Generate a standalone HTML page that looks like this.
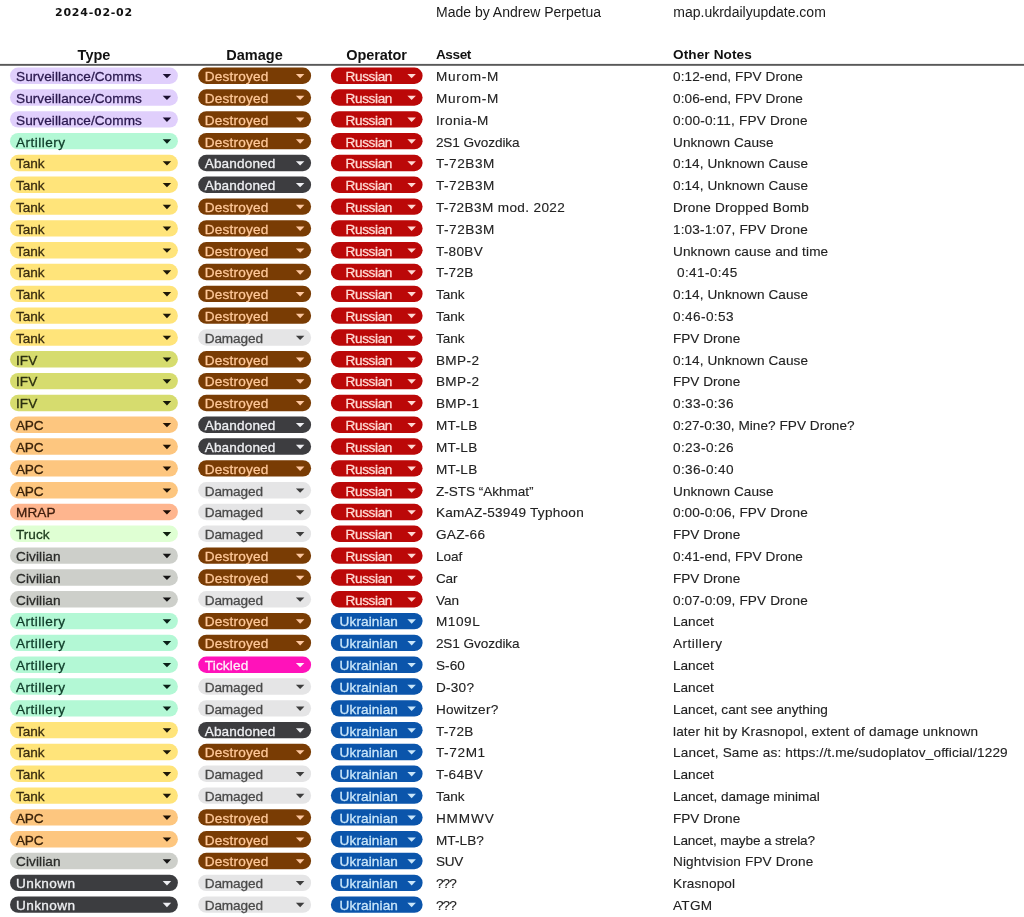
<!DOCTYPE html>
<html lang="en"><head><meta charset="utf-8"><title>2024-02-02</title>
<style>
html,body{margin:0;padding:0;background:#fff;}
body{width:1024px;height:917px;position:relative;overflow:hidden;font-family:"Liberation Sans", sans-serif;font-size:13.6px;color:#222;letter-spacing:0;}
.t{position:absolute;white-space:pre;line-height:18px;height:18px;}
.arial{font-family:"Liberation Sans",sans-serif;font-size:14px;color:#1a1a1a;letter-spacing:0;}
.hd{font-family:"Liberation Sans", sans-serif;font-weight:700;font-size:14.5px;color:#111;text-align:center;}
.hb{font-weight:700;color:#111;}
#date{left:0;width:188px;top:4.2px;font-family:"DejaVu Sans","Liberation Sans",sans-serif;font-size:11px;letter-spacing:0.75px;}
.r{position:absolute;left:0;width:1024px;height:18px;}
.r span{position:absolute;top:0;line-height:18px;height:18px;white-space:pre;-webkit-text-stroke:0.3px currentColor;}
svg{position:absolute;left:0;top:0;}
.a{left:16px;}
.b{left:204.7px;}
.c{left:337.8px;width:62px;text-align:center;}
.r .d{left:435.9px;top:0;-webkit-text-stroke-width:0.12px;}
.r .e{left:673px;top:0;-webkit-text-stroke-width:0.12px;}
.sv{color:#2b1a4f;}
.ar{color:#0f3d2a;}
.tk{color:#3a2d10;}
.if{color:#2c3010;}
.ap{color:#3a2209;}
.mr{color:#3d1d0c;}
.tr{color:#1c3a1c;}
.cv{color:#2a2b29;}
.un{color:#eeeff2;}
.de{color:#ffc899;}
.ab{color:#eeeff2;}
.da{color:#4a4a4a;}
.ti{color:#fff0fa;}
.ru{color:#ffd9d3;}
.uk{color:#c9e6fa;}

</style></head><body>
<div class="t hd" id="date">2024-02-02</div>
<div class="t arial" style="left:436px;top:3px;">Made by Andrew Perpetua</div>
<div class="t arial" style="left:673.3px;top:3px;">map.ukrdailyupdate.com</div>
<div class="t hd" style="left:0;width:188px;top:46px;">Type</div>
<div class="t hd" style="left:198px;width:113px;top:46px;">Damage</div>
<div class="t hd" style="left:330.5px;width:92px;top:46px;letter-spacing:-0.1px;">Operator</div>
<div class="t hb" style="left:435.9px;top:46px;letter-spacing:-0.4px;">Asset</div>
<div class="t hb" style="left:673px;top:46px;letter-spacing:0.1px;">Other Notes</div>
<svg width="1024" height="917" viewBox="0 0 1024 917">
<rect x="0" y="63.9" width="1024" height="1.9" fill="#595959"/>
<rect x="10" y="67.50" width="167.9" height="16.4" rx="8.2" fill="#e0cffc"/>
<path d="M162.70 73.90h8.5l-4.25 4.4z" fill="#1b1030"/>
<rect x="198.2" y="67.50" width="112.9" height="16.4" rx="8.2" fill="#793c04"/>
<path d="M295.90 73.90h8.5l-4.25 4.4z" fill="#ffc8a0"/>
<rect x="330.9" y="67.50" width="91.7" height="16.4" rx="8.2" fill="#bb0808"/>
<path d="M407.40 73.90h8.5l-4.25 4.4z" fill="#ffd9d3"/>
<rect x="10" y="89.31" width="167.9" height="16.4" rx="8.2" fill="#e0cffc"/>
<path d="M162.70 95.72h8.5l-4.25 4.4z" fill="#1b1030"/>
<rect x="198.2" y="89.31" width="112.9" height="16.4" rx="8.2" fill="#793c04"/>
<path d="M295.90 95.72h8.5l-4.25 4.4z" fill="#ffc8a0"/>
<rect x="330.9" y="89.31" width="91.7" height="16.4" rx="8.2" fill="#bb0808"/>
<path d="M407.40 95.72h8.5l-4.25 4.4z" fill="#ffd9d3"/>
<rect x="10" y="111.13" width="167.9" height="16.4" rx="8.2" fill="#e0cffc"/>
<path d="M162.70 117.53h8.5l-4.25 4.4z" fill="#1b1030"/>
<rect x="198.2" y="111.13" width="112.9" height="16.4" rx="8.2" fill="#793c04"/>
<path d="M295.90 117.53h8.5l-4.25 4.4z" fill="#ffc8a0"/>
<rect x="330.9" y="111.13" width="91.7" height="16.4" rx="8.2" fill="#bb0808"/>
<path d="M407.40 117.53h8.5l-4.25 4.4z" fill="#ffd9d3"/>
<rect x="10" y="132.94" width="167.9" height="16.4" rx="8.2" fill="#b3f8d5"/>
<path d="M162.70 139.34h8.5l-4.25 4.4z" fill="#0b2018"/>
<rect x="198.2" y="132.94" width="112.9" height="16.4" rx="8.2" fill="#793c04"/>
<path d="M295.90 139.34h8.5l-4.25 4.4z" fill="#ffc8a0"/>
<rect x="330.9" y="132.94" width="91.7" height="16.4" rx="8.2" fill="#bb0808"/>
<path d="M407.40 139.34h8.5l-4.25 4.4z" fill="#ffd9d3"/>
<rect x="10" y="154.76" width="167.9" height="16.4" rx="8.2" fill="#ffe47a"/>
<path d="M162.70 161.16h8.5l-4.25 4.4z" fill="#1d1708"/>
<rect x="198.2" y="154.76" width="112.9" height="16.4" rx="8.2" fill="#3d3d40"/>
<path d="M295.90 161.16h8.5l-4.25 4.4z" fill="#eeeff2"/>
<rect x="330.9" y="154.76" width="91.7" height="16.4" rx="8.2" fill="#bb0808"/>
<path d="M407.40 161.16h8.5l-4.25 4.4z" fill="#ffd9d3"/>
<rect x="10" y="176.57" width="167.9" height="16.4" rx="8.2" fill="#ffe47a"/>
<path d="M162.70 182.97h8.5l-4.25 4.4z" fill="#1d1708"/>
<rect x="198.2" y="176.57" width="112.9" height="16.4" rx="8.2" fill="#3d3d40"/>
<path d="M295.90 182.97h8.5l-4.25 4.4z" fill="#eeeff2"/>
<rect x="330.9" y="176.57" width="91.7" height="16.4" rx="8.2" fill="#bb0808"/>
<path d="M407.40 182.97h8.5l-4.25 4.4z" fill="#ffd9d3"/>
<rect x="10" y="198.39" width="167.9" height="16.4" rx="8.2" fill="#ffe47a"/>
<path d="M162.70 204.79h8.5l-4.25 4.4z" fill="#1d1708"/>
<rect x="198.2" y="198.39" width="112.9" height="16.4" rx="8.2" fill="#793c04"/>
<path d="M295.90 204.79h8.5l-4.25 4.4z" fill="#ffc8a0"/>
<rect x="330.9" y="198.39" width="91.7" height="16.4" rx="8.2" fill="#bb0808"/>
<path d="M407.40 204.79h8.5l-4.25 4.4z" fill="#ffd9d3"/>
<rect x="10" y="220.21" width="167.9" height="16.4" rx="8.2" fill="#ffe47a"/>
<path d="M162.70 226.60h8.5l-4.25 4.4z" fill="#1d1708"/>
<rect x="198.2" y="220.21" width="112.9" height="16.4" rx="8.2" fill="#793c04"/>
<path d="M295.90 226.60h8.5l-4.25 4.4z" fill="#ffc8a0"/>
<rect x="330.9" y="220.21" width="91.7" height="16.4" rx="8.2" fill="#bb0808"/>
<path d="M407.40 226.60h8.5l-4.25 4.4z" fill="#ffd9d3"/>
<rect x="10" y="242.02" width="167.9" height="16.4" rx="8.2" fill="#ffe47a"/>
<path d="M162.70 248.42h8.5l-4.25 4.4z" fill="#1d1708"/>
<rect x="198.2" y="242.02" width="112.9" height="16.4" rx="8.2" fill="#793c04"/>
<path d="M295.90 248.42h8.5l-4.25 4.4z" fill="#ffc8a0"/>
<rect x="330.9" y="242.02" width="91.7" height="16.4" rx="8.2" fill="#bb0808"/>
<path d="M407.40 248.42h8.5l-4.25 4.4z" fill="#ffd9d3"/>
<rect x="10" y="263.84" width="167.9" height="16.4" rx="8.2" fill="#ffe47a"/>
<path d="M162.70 270.24h8.5l-4.25 4.4z" fill="#1d1708"/>
<rect x="198.2" y="263.84" width="112.9" height="16.4" rx="8.2" fill="#793c04"/>
<path d="M295.90 270.24h8.5l-4.25 4.4z" fill="#ffc8a0"/>
<rect x="330.9" y="263.84" width="91.7" height="16.4" rx="8.2" fill="#bb0808"/>
<path d="M407.40 270.24h8.5l-4.25 4.4z" fill="#ffd9d3"/>
<rect x="10" y="285.65" width="167.9" height="16.4" rx="8.2" fill="#ffe47a"/>
<path d="M162.70 292.05h8.5l-4.25 4.4z" fill="#1d1708"/>
<rect x="198.2" y="285.65" width="112.9" height="16.4" rx="8.2" fill="#793c04"/>
<path d="M295.90 292.05h8.5l-4.25 4.4z" fill="#ffc8a0"/>
<rect x="330.9" y="285.65" width="91.7" height="16.4" rx="8.2" fill="#bb0808"/>
<path d="M407.40 292.05h8.5l-4.25 4.4z" fill="#ffd9d3"/>
<rect x="10" y="307.47" width="167.9" height="16.4" rx="8.2" fill="#ffe47a"/>
<path d="M162.70 313.87h8.5l-4.25 4.4z" fill="#1d1708"/>
<rect x="198.2" y="307.47" width="112.9" height="16.4" rx="8.2" fill="#793c04"/>
<path d="M295.90 313.87h8.5l-4.25 4.4z" fill="#ffc8a0"/>
<rect x="330.9" y="307.47" width="91.7" height="16.4" rx="8.2" fill="#bb0808"/>
<path d="M407.40 313.87h8.5l-4.25 4.4z" fill="#ffd9d3"/>
<rect x="10" y="329.28" width="167.9" height="16.4" rx="8.2" fill="#ffe47a"/>
<path d="M162.70 335.68h8.5l-4.25 4.4z" fill="#1d1708"/>
<rect x="198.2" y="329.28" width="112.9" height="16.4" rx="8.2" fill="#e5e5e6"/>
<path d="M295.90 335.68h8.5l-4.25 4.4z" fill="#3d3d3d"/>
<rect x="330.9" y="329.28" width="91.7" height="16.4" rx="8.2" fill="#bb0808"/>
<path d="M407.40 335.68h8.5l-4.25 4.4z" fill="#ffd9d3"/>
<rect x="10" y="351.10" width="167.9" height="16.4" rx="8.2" fill="#d6dc6e"/>
<path d="M162.70 357.50h8.5l-4.25 4.4z" fill="#15180a"/>
<rect x="198.2" y="351.10" width="112.9" height="16.4" rx="8.2" fill="#793c04"/>
<path d="M295.90 357.50h8.5l-4.25 4.4z" fill="#ffc8a0"/>
<rect x="330.9" y="351.10" width="91.7" height="16.4" rx="8.2" fill="#bb0808"/>
<path d="M407.40 357.50h8.5l-4.25 4.4z" fill="#ffd9d3"/>
<rect x="10" y="372.91" width="167.9" height="16.4" rx="8.2" fill="#d6dc6e"/>
<path d="M162.70 379.31h8.5l-4.25 4.4z" fill="#15180a"/>
<rect x="198.2" y="372.91" width="112.9" height="16.4" rx="8.2" fill="#793c04"/>
<path d="M295.90 379.31h8.5l-4.25 4.4z" fill="#ffc8a0"/>
<rect x="330.9" y="372.91" width="91.7" height="16.4" rx="8.2" fill="#bb0808"/>
<path d="M407.40 379.31h8.5l-4.25 4.4z" fill="#ffd9d3"/>
<rect x="10" y="394.73" width="167.9" height="16.4" rx="8.2" fill="#d6dc6e"/>
<path d="M162.70 401.12h8.5l-4.25 4.4z" fill="#15180a"/>
<rect x="198.2" y="394.73" width="112.9" height="16.4" rx="8.2" fill="#793c04"/>
<path d="M295.90 401.12h8.5l-4.25 4.4z" fill="#ffc8a0"/>
<rect x="330.9" y="394.73" width="91.7" height="16.4" rx="8.2" fill="#bb0808"/>
<path d="M407.40 401.12h8.5l-4.25 4.4z" fill="#ffd9d3"/>
<rect x="10" y="416.54" width="167.9" height="16.4" rx="8.2" fill="#fdc67f"/>
<path d="M162.70 422.94h8.5l-4.25 4.4z" fill="#1d1105"/>
<rect x="198.2" y="416.54" width="112.9" height="16.4" rx="8.2" fill="#3d3d40"/>
<path d="M295.90 422.94h8.5l-4.25 4.4z" fill="#eeeff2"/>
<rect x="330.9" y="416.54" width="91.7" height="16.4" rx="8.2" fill="#bb0808"/>
<path d="M407.40 422.94h8.5l-4.25 4.4z" fill="#ffd9d3"/>
<rect x="10" y="438.36" width="167.9" height="16.4" rx="8.2" fill="#fdc67f"/>
<path d="M162.70 444.75h8.5l-4.25 4.4z" fill="#1d1105"/>
<rect x="198.2" y="438.36" width="112.9" height="16.4" rx="8.2" fill="#3d3d40"/>
<path d="M295.90 444.75h8.5l-4.25 4.4z" fill="#eeeff2"/>
<rect x="330.9" y="438.36" width="91.7" height="16.4" rx="8.2" fill="#bb0808"/>
<path d="M407.40 444.75h8.5l-4.25 4.4z" fill="#ffd9d3"/>
<rect x="10" y="460.17" width="167.9" height="16.4" rx="8.2" fill="#fdc67f"/>
<path d="M162.70 466.57h8.5l-4.25 4.4z" fill="#1d1105"/>
<rect x="198.2" y="460.17" width="112.9" height="16.4" rx="8.2" fill="#793c04"/>
<path d="M295.90 466.57h8.5l-4.25 4.4z" fill="#ffc8a0"/>
<rect x="330.9" y="460.17" width="91.7" height="16.4" rx="8.2" fill="#bb0808"/>
<path d="M407.40 466.57h8.5l-4.25 4.4z" fill="#ffd9d3"/>
<rect x="10" y="481.99" width="167.9" height="16.4" rx="8.2" fill="#fdc67f"/>
<path d="M162.70 488.38h8.5l-4.25 4.4z" fill="#1d1105"/>
<rect x="198.2" y="481.99" width="112.9" height="16.4" rx="8.2" fill="#e5e5e6"/>
<path d="M295.90 488.38h8.5l-4.25 4.4z" fill="#3d3d3d"/>
<rect x="330.9" y="481.99" width="91.7" height="16.4" rx="8.2" fill="#bb0808"/>
<path d="M407.40 488.38h8.5l-4.25 4.4z" fill="#ffd9d3"/>
<rect x="10" y="503.80" width="167.9" height="16.4" rx="8.2" fill="#feb58e"/>
<path d="M162.70 510.20h8.5l-4.25 4.4z" fill="#1f0e06"/>
<rect x="198.2" y="503.80" width="112.9" height="16.4" rx="8.2" fill="#e5e5e6"/>
<path d="M295.90 510.20h8.5l-4.25 4.4z" fill="#3d3d3d"/>
<rect x="330.9" y="503.80" width="91.7" height="16.4" rx="8.2" fill="#bb0808"/>
<path d="M407.40 510.20h8.5l-4.25 4.4z" fill="#ffd9d3"/>
<rect x="10" y="525.62" width="167.9" height="16.4" rx="8.2" fill="#dfffd3"/>
<path d="M162.70 532.02h8.5l-4.25 4.4z" fill="#0f1f0f"/>
<rect x="198.2" y="525.62" width="112.9" height="16.4" rx="8.2" fill="#e5e5e6"/>
<path d="M295.90 532.02h8.5l-4.25 4.4z" fill="#3d3d3d"/>
<rect x="330.9" y="525.62" width="91.7" height="16.4" rx="8.2" fill="#bb0808"/>
<path d="M407.40 532.02h8.5l-4.25 4.4z" fill="#ffd9d3"/>
<rect x="10" y="547.43" width="167.9" height="16.4" rx="8.2" fill="#cdcfca"/>
<path d="M162.70 553.83h8.5l-4.25 4.4z" fill="#151515"/>
<rect x="198.2" y="547.43" width="112.9" height="16.4" rx="8.2" fill="#793c04"/>
<path d="M295.90 553.83h8.5l-4.25 4.4z" fill="#ffc8a0"/>
<rect x="330.9" y="547.43" width="91.7" height="16.4" rx="8.2" fill="#bb0808"/>
<path d="M407.40 553.83h8.5l-4.25 4.4z" fill="#ffd9d3"/>
<rect x="10" y="569.25" width="167.9" height="16.4" rx="8.2" fill="#cdcfca"/>
<path d="M162.70 575.65h8.5l-4.25 4.4z" fill="#151515"/>
<rect x="198.2" y="569.25" width="112.9" height="16.4" rx="8.2" fill="#793c04"/>
<path d="M295.90 575.65h8.5l-4.25 4.4z" fill="#ffc8a0"/>
<rect x="330.9" y="569.25" width="91.7" height="16.4" rx="8.2" fill="#bb0808"/>
<path d="M407.40 575.65h8.5l-4.25 4.4z" fill="#ffd9d3"/>
<rect x="10" y="591.06" width="167.9" height="16.4" rx="8.2" fill="#cdcfca"/>
<path d="M162.70 597.46h8.5l-4.25 4.4z" fill="#151515"/>
<rect x="198.2" y="591.06" width="112.9" height="16.4" rx="8.2" fill="#e5e5e6"/>
<path d="M295.90 597.46h8.5l-4.25 4.4z" fill="#3d3d3d"/>
<rect x="330.9" y="591.06" width="91.7" height="16.4" rx="8.2" fill="#bb0808"/>
<path d="M407.40 597.46h8.5l-4.25 4.4z" fill="#ffd9d3"/>
<rect x="10" y="612.88" width="167.9" height="16.4" rx="8.2" fill="#b3f8d5"/>
<path d="M162.70 619.28h8.5l-4.25 4.4z" fill="#0b2018"/>
<rect x="198.2" y="612.88" width="112.9" height="16.4" rx="8.2" fill="#793c04"/>
<path d="M295.90 619.28h8.5l-4.25 4.4z" fill="#ffc8a0"/>
<rect x="330.9" y="612.88" width="91.7" height="16.4" rx="8.2" fill="#0b55ab"/>
<path d="M407.40 619.28h8.5l-4.25 4.4z" fill="#c9e6fa"/>
<rect x="10" y="634.69" width="167.9" height="16.4" rx="8.2" fill="#b3f8d5"/>
<path d="M162.70 641.09h8.5l-4.25 4.4z" fill="#0b2018"/>
<rect x="198.2" y="634.69" width="112.9" height="16.4" rx="8.2" fill="#793c04"/>
<path d="M295.90 641.09h8.5l-4.25 4.4z" fill="#ffc8a0"/>
<rect x="330.9" y="634.69" width="91.7" height="16.4" rx="8.2" fill="#0b55ab"/>
<path d="M407.40 641.09h8.5l-4.25 4.4z" fill="#c9e6fa"/>
<rect x="10" y="656.50" width="167.9" height="16.4" rx="8.2" fill="#b3f8d5"/>
<path d="M162.70 662.91h8.5l-4.25 4.4z" fill="#0b2018"/>
<rect x="198.2" y="656.50" width="112.9" height="16.4" rx="8.2" fill="#ff12ba"/>
<path d="M295.90 662.91h8.5l-4.25 4.4z" fill="#fff0fa"/>
<rect x="330.9" y="656.50" width="91.7" height="16.4" rx="8.2" fill="#0b55ab"/>
<path d="M407.40 662.91h8.5l-4.25 4.4z" fill="#c9e6fa"/>
<rect x="10" y="678.32" width="167.9" height="16.4" rx="8.2" fill="#b3f8d5"/>
<path d="M162.70 684.72h8.5l-4.25 4.4z" fill="#0b2018"/>
<rect x="198.2" y="678.32" width="112.9" height="16.4" rx="8.2" fill="#e5e5e6"/>
<path d="M295.90 684.72h8.5l-4.25 4.4z" fill="#3d3d3d"/>
<rect x="330.9" y="678.32" width="91.7" height="16.4" rx="8.2" fill="#0b55ab"/>
<path d="M407.40 684.72h8.5l-4.25 4.4z" fill="#c9e6fa"/>
<rect x="10" y="700.13" width="167.9" height="16.4" rx="8.2" fill="#b3f8d5"/>
<path d="M162.70 706.54h8.5l-4.25 4.4z" fill="#0b2018"/>
<rect x="198.2" y="700.13" width="112.9" height="16.4" rx="8.2" fill="#e5e5e6"/>
<path d="M295.90 706.54h8.5l-4.25 4.4z" fill="#3d3d3d"/>
<rect x="330.9" y="700.13" width="91.7" height="16.4" rx="8.2" fill="#0b55ab"/>
<path d="M407.40 706.54h8.5l-4.25 4.4z" fill="#c9e6fa"/>
<rect x="10" y="721.95" width="167.9" height="16.4" rx="8.2" fill="#ffe47a"/>
<path d="M162.70 728.35h8.5l-4.25 4.4z" fill="#1d1708"/>
<rect x="198.2" y="721.95" width="112.9" height="16.4" rx="8.2" fill="#3d3d40"/>
<path d="M295.90 728.35h8.5l-4.25 4.4z" fill="#eeeff2"/>
<rect x="330.9" y="721.95" width="91.7" height="16.4" rx="8.2" fill="#0b55ab"/>
<path d="M407.40 728.35h8.5l-4.25 4.4z" fill="#c9e6fa"/>
<rect x="10" y="743.76" width="167.9" height="16.4" rx="8.2" fill="#ffe47a"/>
<path d="M162.70 750.17h8.5l-4.25 4.4z" fill="#1d1708"/>
<rect x="198.2" y="743.76" width="112.9" height="16.4" rx="8.2" fill="#793c04"/>
<path d="M295.90 750.17h8.5l-4.25 4.4z" fill="#ffc8a0"/>
<rect x="330.9" y="743.76" width="91.7" height="16.4" rx="8.2" fill="#0b55ab"/>
<path d="M407.40 750.17h8.5l-4.25 4.4z" fill="#c9e6fa"/>
<rect x="10" y="765.58" width="167.9" height="16.4" rx="8.2" fill="#ffe47a"/>
<path d="M162.70 771.98h8.5l-4.25 4.4z" fill="#1d1708"/>
<rect x="198.2" y="765.58" width="112.9" height="16.4" rx="8.2" fill="#e5e5e6"/>
<path d="M295.90 771.98h8.5l-4.25 4.4z" fill="#3d3d3d"/>
<rect x="330.9" y="765.58" width="91.7" height="16.4" rx="8.2" fill="#0b55ab"/>
<path d="M407.40 771.98h8.5l-4.25 4.4z" fill="#c9e6fa"/>
<rect x="10" y="787.40" width="167.9" height="16.4" rx="8.2" fill="#ffe47a"/>
<path d="M162.70 793.80h8.5l-4.25 4.4z" fill="#1d1708"/>
<rect x="198.2" y="787.40" width="112.9" height="16.4" rx="8.2" fill="#e5e5e6"/>
<path d="M295.90 793.80h8.5l-4.25 4.4z" fill="#3d3d3d"/>
<rect x="330.9" y="787.40" width="91.7" height="16.4" rx="8.2" fill="#0b55ab"/>
<path d="M407.40 793.80h8.5l-4.25 4.4z" fill="#c9e6fa"/>
<rect x="10" y="809.21" width="167.9" height="16.4" rx="8.2" fill="#fdc67f"/>
<path d="M162.70 815.61h8.5l-4.25 4.4z" fill="#1d1105"/>
<rect x="198.2" y="809.21" width="112.9" height="16.4" rx="8.2" fill="#793c04"/>
<path d="M295.90 815.61h8.5l-4.25 4.4z" fill="#ffc8a0"/>
<rect x="330.9" y="809.21" width="91.7" height="16.4" rx="8.2" fill="#0b55ab"/>
<path d="M407.40 815.61h8.5l-4.25 4.4z" fill="#c9e6fa"/>
<rect x="10" y="831.03" width="167.9" height="16.4" rx="8.2" fill="#fdc67f"/>
<path d="M162.70 837.43h8.5l-4.25 4.4z" fill="#1d1105"/>
<rect x="198.2" y="831.03" width="112.9" height="16.4" rx="8.2" fill="#793c04"/>
<path d="M295.90 837.43h8.5l-4.25 4.4z" fill="#ffc8a0"/>
<rect x="330.9" y="831.03" width="91.7" height="16.4" rx="8.2" fill="#0b55ab"/>
<path d="M407.40 837.43h8.5l-4.25 4.4z" fill="#c9e6fa"/>
<rect x="10" y="852.84" width="167.9" height="16.4" rx="8.2" fill="#cdcfca"/>
<path d="M162.70 859.24h8.5l-4.25 4.4z" fill="#151515"/>
<rect x="198.2" y="852.84" width="112.9" height="16.4" rx="8.2" fill="#793c04"/>
<path d="M295.90 859.24h8.5l-4.25 4.4z" fill="#ffc8a0"/>
<rect x="330.9" y="852.84" width="91.7" height="16.4" rx="8.2" fill="#0b55ab"/>
<path d="M407.40 859.24h8.5l-4.25 4.4z" fill="#c9e6fa"/>
<rect x="10" y="874.66" width="167.9" height="16.4" rx="8.2" fill="#3c3d40"/>
<path d="M162.70 881.06h8.5l-4.25 4.4z" fill="#eeeff2"/>
<rect x="198.2" y="874.66" width="112.9" height="16.4" rx="8.2" fill="#e5e5e6"/>
<path d="M295.90 881.06h8.5l-4.25 4.4z" fill="#3d3d3d"/>
<rect x="330.9" y="874.66" width="91.7" height="16.4" rx="8.2" fill="#0b55ab"/>
<path d="M407.40 881.06h8.5l-4.25 4.4z" fill="#c9e6fa"/>
<rect x="10" y="896.47" width="167.9" height="16.4" rx="8.2" fill="#3c3d40"/>
<path d="M162.70 902.87h8.5l-4.25 4.4z" fill="#eeeff2"/>
<rect x="198.2" y="896.47" width="112.9" height="16.4" rx="8.2" fill="#e5e5e6"/>
<path d="M295.90 902.87h8.5l-4.25 4.4z" fill="#3d3d3d"/>
<rect x="330.9" y="896.47" width="91.7" height="16.4" rx="8.2" fill="#0b55ab"/>
<path d="M407.40 902.87h8.5l-4.25 4.4z" fill="#c9e6fa"/>
</svg>
<div class="r" style="top:68.05px"><span class="a sv" style="letter-spacing:0.07px">Surveillance/Comms</span><span class="b de" style="letter-spacing:0.2px">Destroyed</span><span class="c ru" style="letter-spacing:-0.37px">Russian</span><span class="d" style="letter-spacing:0.71px">Murom-M</span><span class="e" style="letter-spacing:0.08px">0:12-end, FPV Drone</span></div>
<div class="r" style="top:89.86px"><span class="a sv" style="letter-spacing:0.07px">Surveillance/Comms</span><span class="b de" style="letter-spacing:0.2px">Destroyed</span><span class="c ru" style="letter-spacing:-0.37px">Russian</span><span class="d" style="letter-spacing:0.71px">Murom-M</span><span class="e" style="letter-spacing:0.08px">0:06-end, FPV Drone</span></div>
<div class="r" style="top:111.68px"><span class="a sv" style="letter-spacing:0.07px">Surveillance/Comms</span><span class="b de" style="letter-spacing:0.2px">Destroyed</span><span class="c ru" style="letter-spacing:-0.37px">Russian</span><span class="d" style="letter-spacing:0.38px">Ironia-M</span><span class="e" style="letter-spacing:0.18px">0:00-0:11, FPV Drone</span></div>
<div class="r" style="top:133.50px"><span class="a ar" style="letter-spacing:0.46px">Artillery</span><span class="b de" style="letter-spacing:0.2px">Destroyed</span><span class="c ru" style="letter-spacing:-0.37px">Russian</span><span class="d" style="letter-spacing:-0.08px">2S1 Gvozdika</span><span class="e" style="letter-spacing:0.06px">Unknown Cause</span></div>
<div class="r" style="top:155.31px"><span class="a tk" style="letter-spacing:-0.04px">Tank</span><span class="b ab" style="letter-spacing:0.14px">Abandoned</span><span class="c ru" style="letter-spacing:-0.37px">Russian</span><span class="d" style="letter-spacing:0.55px">T-72B3M</span><span class="e" style="letter-spacing:0.07px">0:14, Unknown Cause</span></div>
<div class="r" style="top:177.12px"><span class="a tk" style="letter-spacing:-0.04px">Tank</span><span class="b ab" style="letter-spacing:0.14px">Abandoned</span><span class="c ru" style="letter-spacing:-0.37px">Russian</span><span class="d" style="letter-spacing:0.55px">T-72B3M</span><span class="e" style="letter-spacing:0.07px">0:14, Unknown Cause</span></div>
<div class="r" style="top:198.94px"><span class="a tk" style="letter-spacing:-0.04px">Tank</span><span class="b de" style="letter-spacing:0.2px">Destroyed</span><span class="c ru" style="letter-spacing:-0.37px">Russian</span><span class="d" style="letter-spacing:0.36px">T-72B3M mod. 2022</span><span class="e" style="letter-spacing:0.21px">Drone Dropped Bomb</span></div>
<div class="r" style="top:220.76px"><span class="a tk" style="letter-spacing:-0.04px">Tank</span><span class="b de" style="letter-spacing:0.2px">Destroyed</span><span class="c ru" style="letter-spacing:-0.37px">Russian</span><span class="d" style="letter-spacing:0.55px">T-72B3M</span><span class="e" style="letter-spacing:0.13px">1:03-1:07, FPV Drone</span></div>
<div class="r" style="top:242.57px"><span class="a tk" style="letter-spacing:-0.04px">Tank</span><span class="b de" style="letter-spacing:0.2px">Destroyed</span><span class="c ru" style="letter-spacing:-0.37px">Russian</span><span class="d" style="letter-spacing:0.31px">T-80BV</span><span class="e" style="letter-spacing:0.12px">Unknown cause and time</span></div>
<div class="r" style="top:264.39px"><span class="a tk" style="letter-spacing:-0.04px">Tank</span><span class="b de" style="letter-spacing:0.2px">Destroyed</span><span class="c ru" style="letter-spacing:-0.37px">Russian</span><span class="d" style="letter-spacing:0.32px">T-72B</span><span class="e" style="letter-spacing:0.33px"> 0:41-0:45</span></div>
<div class="r" style="top:286.20px"><span class="a tk" style="letter-spacing:-0.04px">Tank</span><span class="b de" style="letter-spacing:0.2px">Destroyed</span><span class="c ru" style="letter-spacing:-0.37px">Russian</span><span class="d" style="letter-spacing:-0.04px">Tank</span><span class="e" style="letter-spacing:0.07px">0:14, Unknown Cause</span></div>
<div class="r" style="top:308.02px"><span class="a tk" style="letter-spacing:-0.04px">Tank</span><span class="b de" style="letter-spacing:0.2px">Destroyed</span><span class="c ru" style="letter-spacing:-0.37px">Russian</span><span class="d" style="letter-spacing:-0.04px">Tank</span><span class="e" style="letter-spacing:0.38px">0:46-0:53</span></div>
<div class="r" style="top:329.83px"><span class="a tk" style="letter-spacing:-0.04px">Tank</span><span class="b da" style="letter-spacing:-0.1px">Damaged</span><span class="c ru" style="letter-spacing:-0.37px">Russian</span><span class="d" style="letter-spacing:-0.04px">Tank</span><span class="e">FPV Drone</span></div>
<div class="r" style="top:351.65px"><span class="a if" style="letter-spacing:0.05px">IFV</span><span class="b de" style="letter-spacing:0.2px">Destroyed</span><span class="c ru" style="letter-spacing:-0.37px">Russian</span><span class="d" style="letter-spacing:0.38px">BMP-2</span><span class="e" style="letter-spacing:0.07px">0:14, Unknown Cause</span></div>
<div class="r" style="top:373.46px"><span class="a if" style="letter-spacing:0.05px">IFV</span><span class="b de" style="letter-spacing:0.2px">Destroyed</span><span class="c ru" style="letter-spacing:-0.37px">Russian</span><span class="d" style="letter-spacing:0.38px">BMP-2</span><span class="e">FPV Drone</span></div>
<div class="r" style="top:395.28px"><span class="a if" style="letter-spacing:0.05px">IFV</span><span class="b de" style="letter-spacing:0.2px">Destroyed</span><span class="c ru" style="letter-spacing:-0.37px">Russian</span><span class="d" style="letter-spacing:0.38px">BMP-1</span><span class="e" style="letter-spacing:0.38px">0:33-0:36</span></div>
<div class="r" style="top:417.09px"><span class="a ap" style="letter-spacing:-0.24px">APC</span><span class="b ab" style="letter-spacing:0.14px">Abandoned</span><span class="c ru" style="letter-spacing:-0.37px">Russian</span><span class="d" style="letter-spacing:0.36px">MT-LB</span><span class="e" style="letter-spacing:0.04px">0:27-0:30, Mine? FPV Drone?</span></div>
<div class="r" style="top:438.91px"><span class="a ap" style="letter-spacing:-0.24px">APC</span><span class="b ab" style="letter-spacing:0.14px">Abandoned</span><span class="c ru" style="letter-spacing:-0.37px">Russian</span><span class="d" style="letter-spacing:0.36px">MT-LB</span><span class="e" style="letter-spacing:0.38px">0:23-0:26</span></div>
<div class="r" style="top:460.72px"><span class="a ap" style="letter-spacing:-0.24px">APC</span><span class="b de" style="letter-spacing:0.2px">Destroyed</span><span class="c ru" style="letter-spacing:-0.37px">Russian</span><span class="d" style="letter-spacing:0.36px">MT-LB</span><span class="e" style="letter-spacing:0.38px">0:36-0:40</span></div>
<div class="r" style="top:482.54px"><span class="a ap" style="letter-spacing:-0.24px">APC</span><span class="b da" style="letter-spacing:-0.1px">Damaged</span><span class="c ru" style="letter-spacing:-0.37px">Russian</span><span class="d" style="letter-spacing:-0.04px">Z-STS “Akhmat”</span><span class="e" style="letter-spacing:0.06px">Unknown Cause</span></div>
<div class="r" style="top:504.35px"><span class="a mr" style="letter-spacing:0.09px">MRAP</span><span class="b da" style="letter-spacing:-0.1px">Damaged</span><span class="c ru" style="letter-spacing:-0.37px">Russian</span><span class="d" style="letter-spacing:0.25px">KamAZ-53949 Typhoon</span><span class="e" style="letter-spacing:0.13px">0:00-0:06, FPV Drone</span></div>
<div class="r" style="top:526.16px"><span class="a tr">Truck</span><span class="b da" style="letter-spacing:-0.1px">Damaged</span><span class="c ru" style="letter-spacing:-0.37px">Russian</span><span class="d" style="letter-spacing:0.3px">GAZ-66</span><span class="e">FPV Drone</span></div>
<div class="r" style="top:547.98px"><span class="a cv" style="letter-spacing:0.11px">Civilian</span><span class="b de" style="letter-spacing:0.2px">Destroyed</span><span class="c ru" style="letter-spacing:-0.37px">Russian</span><span class="d" style="letter-spacing:-0.02px">Loaf</span><span class="e" style="letter-spacing:0.08px">0:41-end, FPV Drone</span></div>
<div class="r" style="top:569.79px"><span class="a cv" style="letter-spacing:0.11px">Civilian</span><span class="b de" style="letter-spacing:0.2px">Destroyed</span><span class="c ru" style="letter-spacing:-0.37px">Russian</span><span class="d" style="letter-spacing:-0.17px">Car</span><span class="e">FPV Drone</span></div>
<div class="r" style="top:591.61px"><span class="a cv" style="letter-spacing:0.11px">Civilian</span><span class="b da" style="letter-spacing:-0.1px">Damaged</span><span class="c ru" style="letter-spacing:-0.37px">Russian</span><span class="d">Van</span><span class="e" style="letter-spacing:0.13px">0:07-0:09, FPV Drone</span></div>
<div class="r" style="top:613.42px"><span class="a ar" style="letter-spacing:0.46px">Artillery</span><span class="b de" style="letter-spacing:0.2px">Destroyed</span><span class="c uk" style="letter-spacing:0.12px">Ukrainian</span><span class="d" style="letter-spacing:0.59px">M109L</span><span class="e">Lancet</span></div>
<div class="r" style="top:635.24px"><span class="a ar" style="letter-spacing:0.46px">Artillery</span><span class="b de" style="letter-spacing:0.2px">Destroyed</span><span class="c uk" style="letter-spacing:0.12px">Ukrainian</span><span class="d" style="letter-spacing:-0.08px">2S1 Gvozdika</span><span class="e" style="letter-spacing:0.46px">Artillery</span></div>
<div class="r" style="top:657.05px"><span class="a ar" style="letter-spacing:0.46px">Artillery</span><span class="b ti" style="letter-spacing:0.19px">Tickled</span><span class="c uk" style="letter-spacing:0.12px">Ukrainian</span><span class="d" style="letter-spacing:0.08px">S-60</span><span class="e">Lancet</span></div>
<div class="r" style="top:678.87px"><span class="a ar" style="letter-spacing:0.46px">Artillery</span><span class="b da" style="letter-spacing:-0.1px">Damaged</span><span class="c uk" style="letter-spacing:0.12px">Ukrainian</span><span class="d" style="letter-spacing:0.26px">D-30?</span><span class="e">Lancet</span></div>
<div class="r" style="top:700.68px"><span class="a ar" style="letter-spacing:0.46px">Artillery</span><span class="b da" style="letter-spacing:-0.1px">Damaged</span><span class="c uk" style="letter-spacing:0.12px">Ukrainian</span><span class="d" style="letter-spacing:0.24px">Howitzer?</span><span class="e">Lancet, cant see anything</span></div>
<div class="r" style="top:722.50px"><span class="a tk" style="letter-spacing:-0.04px">Tank</span><span class="b ab" style="letter-spacing:0.14px">Abandoned</span><span class="c uk" style="letter-spacing:0.12px">Ukrainian</span><span class="d" style="letter-spacing:0.32px">T-72B</span><span class="e" style="letter-spacing:0.14px">later hit by Krasnopol, extent of damage unknown</span></div>
<div class="r" style="top:744.31px"><span class="a tk" style="letter-spacing:-0.04px">Tank</span><span class="b de" style="letter-spacing:0.2px">Destroyed</span><span class="c uk" style="letter-spacing:0.12px">Ukrainian</span><span class="d" style="letter-spacing:0.64px">T-72M1</span><span class="e" style="letter-spacing:0.16px">Lancet, Same as: https://t.me/sudoplatov_official/1229</span></div>
<div class="r" style="top:766.13px"><span class="a tk" style="letter-spacing:-0.04px">Tank</span><span class="b da" style="letter-spacing:-0.1px">Damaged</span><span class="c uk" style="letter-spacing:0.12px">Ukrainian</span><span class="d" style="letter-spacing:0.31px">T-64BV</span><span class="e">Lancet</span></div>
<div class="r" style="top:787.95px"><span class="a tk" style="letter-spacing:-0.04px">Tank</span><span class="b da" style="letter-spacing:-0.1px">Damaged</span><span class="c uk" style="letter-spacing:0.12px">Ukrainian</span><span class="d" style="letter-spacing:-0.04px">Tank</span><span class="e" style="letter-spacing:-0.06px">Lancet, damage minimal</span></div>
<div class="r" style="top:809.76px"><span class="a ap" style="letter-spacing:-0.24px">APC</span><span class="b de" style="letter-spacing:0.2px">Destroyed</span><span class="c uk" style="letter-spacing:0.12px">Ukrainian</span><span class="d" style="letter-spacing:0.9px">HMMWV</span><span class="e">FPV Drone</span></div>
<div class="r" style="top:831.58px"><span class="a ap" style="letter-spacing:-0.24px">APC</span><span class="b de" style="letter-spacing:0.2px">Destroyed</span><span class="c uk" style="letter-spacing:0.12px">Ukrainian</span><span class="d" style="letter-spacing:0.08px">MT-LB?</span><span class="e" style="letter-spacing:-0.14px">Lancet, maybe a strela?</span></div>
<div class="r" style="top:853.39px"><span class="a cv" style="letter-spacing:0.11px">Civilian</span><span class="b de" style="letter-spacing:0.2px">Destroyed</span><span class="c uk" style="letter-spacing:0.12px">Ukrainian</span><span class="d" style="letter-spacing:-0.2px">SUV</span><span class="e" style="letter-spacing:0.14px">Nightvision FPV Drone</span></div>
<div class="r" style="top:875.21px"><span class="a un" style="letter-spacing:0.4px">Unknown</span><span class="b da" style="letter-spacing:-0.1px">Damaged</span><span class="c uk" style="letter-spacing:0.12px">Ukrainian</span><span class="d" style="letter-spacing:-0.9px">???</span><span class="e" style="letter-spacing:0.1px">Krasnopol</span></div>
<div class="r" style="top:897.02px"><span class="a un" style="letter-spacing:0.4px">Unknown</span><span class="b da" style="letter-spacing:-0.1px">Damaged</span><span class="c uk" style="letter-spacing:0.12px">Ukrainian</span><span class="d" style="letter-spacing:-0.9px">???</span><span class="e" style="letter-spacing:0.31px">ATGM</span></div>
</body></html>
